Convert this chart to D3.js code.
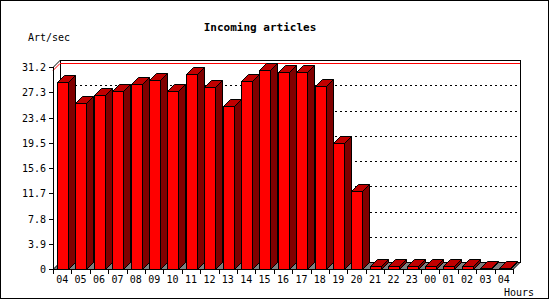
<!DOCTYPE html>
<head>
  <meta charset="utf-8">
  <script src="https://d3js.org/d3.v7.min.js"></script>
  <style>
    body { margin: 0; background: #fff; }
    text { font-family: "DejaVu Sans Mono", monospace; font-size: 10px; fill: #000; }
  </style>
</head>
<body>
  <div id="chart"></div>
  <script>
    // hours along the x axis
    var hours = ["04", "05", "06", "07", "08", "09", "10", "11", "12", "13", "14", "15", "16",
                 "17", "18", "19", "20", "21", "22", "23", "00", "01", "02", "03", "04b"];
    // articles per second
    var rates = [28.9, 25.7, 26.9, 27.5, 28.6, 29.2, 27.5, 30.1, 28.1, 25.2, 29.0, 30.7, 30.4,
                 30.4, 28.3, 19.5, 12.0, 0.4, 0.4, 0.4, 0.4, 0.4, 0.4, 0.2, 0.2];
    var yTicks = [0, 3.9, 7.8, 11.7, 15.6, 19.5, 23.4, 27.3, 31.2];

    var width = 550, height = 300;
    var depth = 7;           // 3d offset of the back wall
    var plotLeft = 53, plotRight = 513, plotBottom = 269, plotTop = 67;

    var svg = d3.select("#chart").append("svg")
        .attr("width", width)
        .attr("height", height);

    svg.append("rect")
        .attr("x", 0.5).attr("y", 0.5)
        .attr("width", width - 2).attr("height", height - 2)
        .style("fill", "#fff").style("stroke", "#000");

    var x = d3.scaleBand().domain(hours).range([plotLeft, plotRight]);
    var y = d3.scaleLinear().domain([0, 31.2]).range([plotBottom, plotTop]);

    // back wall
    svg.append("rect")
        .attr("x", plotLeft + depth + 0.5).attr("y", y(31.2) - depth + 0.5)
        .attr("width", plotRight - plotLeft).attr("height", plotBottom - y(31.2))
        .style("fill", "#fff").style("stroke", "#000");

    // dotted grid on the back wall
    svg.selectAll(".grid").data(yTicks.slice(1, -1)).enter().append("line")
        .attr("x1", plotLeft + depth).attr("x2", plotRight + depth)
        .attr("y1", function(d) { return Math.round(y(d)) - depth + 0.5; })
        .attr("y2", function(d) { return Math.round(y(d)) - depth + 0.5; })
        .style("stroke", "#000").style("stroke-dasharray", "2,3");

    // max line
    var maxRate = d3.max(rates);
    var my = Math.round(y(maxRate)) + 0.5;
    svg.append("polyline")
        .attr("points", [[plotLeft, my], [plotLeft + depth, my - depth], [plotRight + depth, my - depth]].join(" "))
        .style("fill", "none").style("stroke", "#f00");

    // left wall edge
    svg.append("polyline")
        .attr("points", [[plotLeft + 0.5, y(31.2)], [plotLeft + depth + 0.5, y(31.2) - depth]].join(" "))
        .style("fill", "none").style("stroke", "#000");

    // floor
    svg.append("polygon")
        .attr("points", [[plotLeft, plotBottom + 0.5], [plotRight, plotBottom + 0.5],
                         [plotRight + depth, plotBottom - depth + 0.5], [plotLeft + depth, plotBottom - depth + 0.5]].join(" "))
        .style("fill", "#808080").style("stroke", "#000");

    var bw = Math.round(x.bandwidth() * 0.6);
    var off = 4;

    var bars = svg.selectAll(".bar").data(rates).enter().append("g");

    bars.append("polygon")   // side
        .attr("points", function(d, i) {
            var x0 = Math.round(x(hours[i])) + off + bw + 0.5, t = Math.round(y(d)) + 0.5;
            return [[x0, t], [x0 + depth, t - depth], [x0 + depth, plotBottom - depth + 0.5], [x0, plotBottom + 0.5]].join(" ");
        })
        .style("fill", "#800000").style("stroke", "#000");

    bars.append("polygon")   // top
        .attr("points", function(d, i) {
            var x0 = Math.round(x(hours[i])) + off + 0.5, t = Math.round(y(d)) + 0.5;
            return [[x0, t], [x0 + bw, t], [x0 + bw + depth, t - depth], [x0 + depth, t - depth]].join(" ");
        })
        .style("fill", "#c00000").style("stroke", "#000");

    bars.append("rect")      // front
        .attr("x", function(d, i) { return Math.round(x(hours[i])) + off + 0.5; })
        .attr("y", function(d) { return Math.round(y(d)) + 0.5; })
        .attr("width", bw)
        .attr("height", function(d) { return plotBottom - Math.round(y(d)); })
        .style("fill", "#f00").style("stroke", "#000");

    // y axis
    svg.append("line")
        .attr("x1", plotLeft + 0.5).attr("x2", plotLeft + 0.5)
        .attr("y1", y(31.2)).attr("y2", plotBottom + 0.5)
        .style("stroke", "#000");
    svg.selectAll(".yt").data(yTicks).enter().append("line")
        .attr("x1", plotLeft - 4).attr("x2", plotLeft)
        .attr("y1", function(d) { return Math.round(y(d)) + 0.5; })
        .attr("y2", function(d) { return Math.round(y(d)) + 0.5; })
        .style("stroke", "#000");
    svg.selectAll(".yl").data(yTicks).enter().append("text")
        .attr("x", plotLeft - 7)
        .attr("y", function(d) { return Math.round(y(d)) + 4; })
        .attr("text-anchor", "end")
        .text(function(d) { return d; });

    // x axis
    svg.append("line")
        .attr("x1", plotLeft).attr("x2", plotRight)
        .attr("y1", plotBottom + 0.5).attr("y2", plotBottom + 0.5)
        .style("stroke", "#000");
    svg.selectAll(".xt").data(hours).enter().append("line")
        .attr("x1", function(d) { return Math.round(x(d)) + 0.5; })
        .attr("x2", function(d) { return Math.round(x(d)) + 0.5; })
        .attr("y1", plotBottom).attr("y2", plotBottom + 5)
        .style("stroke", "#000");
    svg.append("line")
        .attr("x1", plotRight + 0.5).attr("x2", plotRight + 0.5)
        .attr("y1", plotBottom).attr("y2", plotBottom + 5)
        .style("stroke", "#000");
    svg.selectAll(".xl").data(hours).enter().append("text")
        .attr("x", function(d) { return x(d) + x.bandwidth() / 2; })
        .attr("y", plotBottom + 14)
        .attr("text-anchor", "middle")
        .text(function(d) { return d.slice(0, 2); });

    svg.append("text")
        .attr("x", 260).attr("y", 31)
        .attr("text-anchor", "middle")
        .style("font-weight", "bold").style("font-size", "11px")
        .text("Incoming articles");
    svg.append("text").attr("x", 28).attr("y", 41).text("Art/sec");
    svg.append("text").attr("x", 504).attr("y", 296).text("Hours");
  </script>
</body>
